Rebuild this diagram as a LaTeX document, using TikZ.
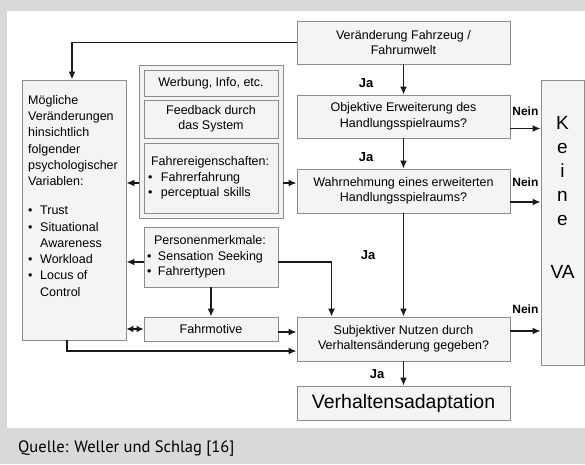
\documentclass[tikz,border=0pt]{standalone}
\usepackage{fontspec}
\setmainfont{Liberation Sans}
\newfontfamily\captionfont{PT Sans}
\usetikzlibrary{arrows.meta,positioning,calc}
\definecolor{FrameGray}{HTML}{D9D9D9}
\definecolor{BoxLine}{HTML}{8C8C8C}
\definecolor{BoxPanel}{HTML}{F4F4F4}
\definecolor{FlowLine}{HTML}{1A1A1A}

\begin{document}
\begin{tikzpicture}[x=1pt,y=-1pt]
  \tikzset{box/.style={draw=BoxLine,fill=BoxPanel,line width=0.9pt,inner sep=0pt,
      align=center,font=\fontsize{12.5}{15.5}\selectfont},
    flow/.style={draw=FlowLine,line width=1.4pt,-{Latex[length=8pt,width=7pt]}},
    both/.style={draw=FlowLine,line width=1.4pt,{Latex[length=7pt,width=7pt]}-{Latex[length=7pt,width=7pt]}},
    ja/.style={inner sep=0pt,font=\fontsize{13}{15}\selectfont\bfseries},
    nein/.style={inner sep=0pt,anchor=south east,font=\fontsize{12}{14}\selectfont\bfseries}}
  % frame
  \fill[FrameGray] (0,0) rectangle (585,464);
  \fill[white] (7,11) rectangle (585,428);
  \useasboundingbox (0,0) rectangle (585,464);
  % right column
  \node[box,minimum width=213pt,minimum height=43pt] (veraend) at (403.5,42.5) {Veränderung Fahrzeug /\\Fahrumwelt};
  \node[box,minimum width=213pt,minimum height=43pt] (objektiv) at (403.5,116.5) {Objektive Erweiterung des\\Handlungsspielraums?};
  \node[box,minimum width=213pt,minimum height=44pt] (wahrn) at (403.5,191) {Wahrnehmung eines erweiterten\\Handlungsspielraums?};
  \node[box,minimum width=213pt,minimum height=44pt] (subj) at (403.5,339) {Subjektiver Nutzen durch\\Verhaltensänderung gegeben?};
  \node[box,minimum width=213pt,minimum height=34pt,font=\fontsize{19.5}{22}\selectfont] (adapt) at (403.5,403) {Verhaltensadaptation};
  \node[box,minimum width=43pt,minimum height=285pt] (keine) at (562.5,222.5) {};
  \node[anchor=north,inner sep=0pt,align=center,font=\fontsize{19}{24}\selectfont] (keinetxt) at (562.5,116) {K\\e\\i\\n\\e\\[29pt]VA};
  % left column
  \node[box,minimum width=104pt,minimum height=260pt] (moegl) at (74,210) {};
  \node[anchor=north west,inner sep=0pt,align=left,font=\fontsize{12.5}{16.3}\selectfont] (moegltxt) at (28,95)
    {Mögliche\\Veränderungen\\hinsichtlich\\folgender\\psychologischer\\Variablen:\\[12.7pt]
     \makebox[12pt][l]{\textbullet}Trust\\\makebox[12pt][l]{\textbullet}Situational\\\hspace*{12pt}Awareness\\
     \makebox[12pt][l]{\textbullet}Workload\\\makebox[12pt][l]{\textbullet}Locus of\\\hspace*{12pt}Control};
  % middle column
  \node[box,minimum width=144pt,minimum height=153pt] (group) at (211,141.5) {};
  \node[box,minimum width=134pt,minimum height=26pt] (werbung) at (211,83) {Werbung, Info, etc.};
  \node[box,minimum width=134pt,minimum height=38pt] (feedback) at (211,119) {Feedback durch\\das System};
  \node[box,minimum width=134pt,minimum height=70pt,align=left,text width=126pt] (fahrer) at (211,178)
    {\hspace*{3pt}Fahrereigenschaften:\\\makebox[13pt][l]{\textbullet}Fahrerfahrung\\\makebox[13pt][l]{\textbullet}perceptual skills};
  \node[box,minimum width=134pt,minimum height=60pt,align=left,text width=128pt] (personen) at (211,257)
    {\hspace*{7pt}Personenmerkmale:\\\makebox[11pt][l]{\textbullet}Sensation Seeking\\\makebox[11pt][l]{\textbullet}Fahrertypen};
  \node[box,minimum width=134pt,minimum height=24pt] (fahrmot) at (211,329) {Fahrmotive};
  % connectors
  \coordinate (c1) at ([yshift=-12pt]objektiv.east);
  \coordinate (c2) at ([yshift=-11pt]wahrn.east);
  \coordinate (c3) at ([yshift=8pt]subj.east);
  \coordinate (c4) at ([yshift=-5pt]group.west |- fahrer.center);
  \coordinate (c5) at ([yshift=-5pt]personen.east);
  \coordinate (c6) at ([xshift=35pt]subj.north west);
  \coordinate (c7) at ([xshift=-7pt]moegl.south);
  \coordinate (c8) at ([yshift=-12pt]subj.west);
  \draw[flow] (veraend.west) -| ([xshift=-2pt]moegl.north);
  \draw[flow] (veraend) -- (objektiv);
  \draw[flow] (objektiv) -- (wahrn);
  \draw[flow] (wahrn) -- (subj);
  \draw[flow] (subj) -- (adapt);
  \draw[flow] (c1) -- (c1 -| keine.west);
  \draw[flow] (c2) -- (c2 -| keine.west);
  \draw[flow] (c3) -- (c3 -| keine.west);
  \draw[flow] (c4) -- (c4 -| moegl.east);
  \draw[flow] (c4 -| group.east) -- (c4 -| wahrn.west);
  \draw[flow] ([yshift=-5pt]personen.west) -- ([yshift=-5pt]personen.west -| moegl.east);
  \draw[flow] (c5) -| (c6);
  \draw[flow] (personen) -- (fahrmot);
  \draw[both] (fahrmot.west) -- (fahrmot.west -| moegl.east);
  \draw[flow] ([yshift=-3pt]fahrmot.east) -- ([yshift=-3pt]fahrmot.east -| subj.west);
  \draw[flow] (c7) |- (c8);
  % labels
  \node[ja] at (366,83) {Ja};
  \node[ja] at (366,157) {Ja};
  \node[ja] at (368,255) {Ja};
  \node[ja] at (377,374) {Ja};
  \node[nein] at ([xshift=-2pt,yshift=12.5pt]c1 -| keine.west) {Nein};
  \node[nein] at ([xshift=-2pt,yshift=15.5pt]c2 -| keine.west) {Nein};
  \node[nein] at ([xshift=-2pt,yshift=17.5pt]c3 -| keine.west) {Nein};
  \node[anchor=base west,inner sep=0pt,font=\captionfont\fontsize{16.5}{19}\selectfont] (quelle) at (18,452) {Quelle: Weller und Schlag [16]};
\end{tikzpicture}
\end{document}
